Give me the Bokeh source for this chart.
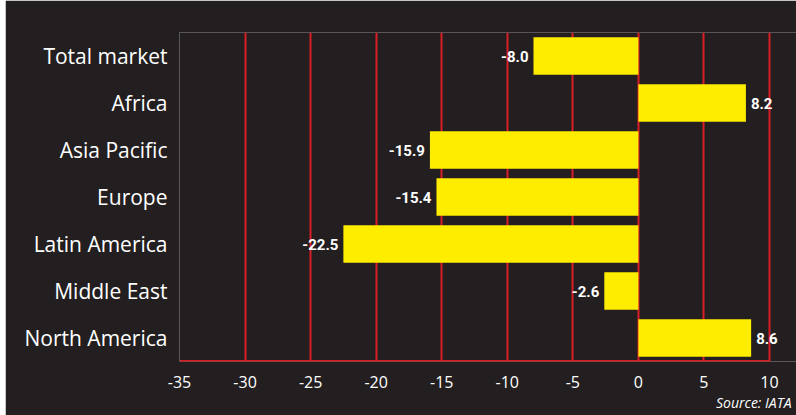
from bokeh.plotting import figure
from bokeh.models import FactorRange, Range1d, FixedTicker, ColumnDataSource, Spacer, Title
from bokeh.layouts import row
from bokeh.core.properties import value
from bokeh.embed import file_html
from bokeh.resources import INLINE

regions = ["Total market", "Africa", "Asia Pacific", "Europe", "Latin America", "Middle East", "North America"]
growth = [-8.0, 8.2, -15.9, -15.4, -22.5, -2.6, 8.6]
x_ticks = [-35, -30, -25, -20, -15, -10, -5, 0, 5, 10]
source_note = "Source: IATA"

BG = "#231f20"
RED = "#d81e25"
YELLOW = "#ffed00"

# frame runs from x=179 to the right edge; axis from -35 at 179 px to 10 at 769 px
px_per_unit = (769 - 179) / (x_ticks[-1] - x_ticks[0])
x_end = x_ticks[-1] + (796 - 769) / px_per_unit

p = figure(width=791, height=415,
           y_range=FactorRange(factors=list(reversed(regions)), range_padding=0),
           x_range=Range1d(x_ticks[0], x_end),
           output_backend="svg", toolbar_location=None,
           min_border_left=174, min_border_right=0,
           min_border_top=32, min_border_bottom=54)
p.background_fill_color = BG
p.border_fill_color = BG
p.outline_line_color = None

src = ColumnDataSource(dict(region=regions, growth=growth))
p.hbar(y="region", right="growth", left=0, height=0.8, source=src,
       fill_color=YELLOW, line_color=None)

# bottom border of the plot area, from the first to the last tick
p.segment(x0=[x_ticks[0]], x1=[x_ticks[-1]], y0=[0], y1=[0], line_color=RED, line_width=3)

pos_src = ColumnDataSource(dict(
    x=[g for g in growth if g >= 0],
    y=[r for r, g in zip(regions, growth) if g >= 0],
    t=["%.1f" % g for g in growth if g >= 0]))
neg_src = ColumnDataSource(dict(
    x=[g for g in growth if g < 0],
    y=[r for r, g in zip(regions, growth) if g < 0],
    t=["%.1f" % g for g in growth if g < 0]))
LAB_FONT = value("Roboto")
p.text(x="x", y="y", text="t", source=pos_src, x_offset=5,
       text_align="left", text_baseline="middle", text_color="white",
       text_font=LAB_FONT, text_font_style="bold", text_font_size="15px")
p.text(x="x", y="y", text="t", source=neg_src, x_offset=-5,
       text_align="right", text_baseline="middle", text_color="white",
       text_font=LAB_FONT, text_font_style="bold", text_font_size="15px")

p.xgrid.grid_line_color = RED
p.xgrid.grid_line_width = 2
p.ygrid.grid_line_color = None

p.xaxis.ticker = FixedTicker(ticks=x_ticks)
p.xaxis.major_label_overrides = {t: str(t) for t in x_ticks}
p.xaxis.axis_line_color = None
p.xaxis.major_tick_line_color = None
p.xaxis.minor_tick_line_color = None
p.xaxis.major_tick_out = 0
p.xaxis.major_tick_in = 0
p.xaxis.major_label_text_color = "white"
p.xaxis.major_label_text_font = "Open Sans"
p.xaxis.major_label_text_font_size = "16px"
p.xaxis.major_label_standoff = 14

p.yaxis.axis_line_color = None
p.yaxis.major_tick_line_color = None
p.yaxis.minor_tick_line_color = None
p.yaxis.major_tick_out = 0
p.yaxis.major_tick_in = 0
p.yaxis.major_label_text_color = "white"
p.yaxis.major_label_text_font = "Open Sans"
p.yaxis.major_label_text_font_size = "21px"
p.yaxis.major_label_standoff = 12

p.add_layout(Title(text=source_note, align="right", text_color="white",
                   text_font="Open Sans", text_font_style="italic",
                   text_font_size="14px", offset=5, standoff=0), "below")

layout = row(Spacer(width=5, height=415), p)
layout.spacing = 0
open("out.html", "w").write(file_html(layout, INLINE))
